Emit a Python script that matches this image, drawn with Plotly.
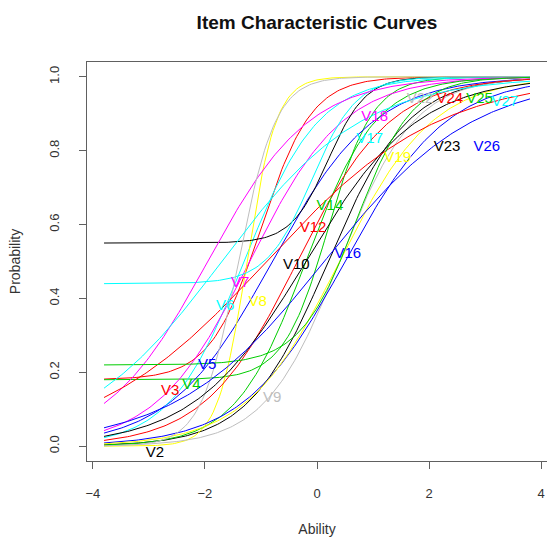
import numpy as np
import plotly.graph_objects as go

# Items (3PL parameters) ----------------------------------------------------
items = ["V2", "V3", "V4", "V5", "V6", "V7", "V8", "V9", "V10", "V12", "V14",
         "V16", "V17", "V18", "V19", "V22", "V23", "V24", "V25", "V26", "V27"]
discrimination = [1.4, 2.2, 2.5, 1.1, 1.5, 1.2, 3.8, 1.5, 3.0, 1.2, 1.6,
                  1.1, 2.5, 1.1, 1.2, 3.0, 1.0, 0.65, 2.0, 0.75, 0.8]
difficulty = [0.2, -1.0, 0.2, -0.8, -1.3, -1.2, -1.25, 0.4, 0.2, -0.35, -0.2,
              0.5, -0.1, -1.95, 0.4, -1.4, -0.2, -0.9, 0.7, 0.13, -1.7]
guessing = [0.0, 0.18, 0.18, 0.0, 0.0, 0.0, 0.0, 0.0, 0.55, 0.0, 0.0,
            0.0, 0.44, 0.0, 0.0, 0.0, 0.0, 0.0, 0.22, 0.0, 0.0]

# Label positions (ability, probability)
label_x = [-2.89, -2.62, -2.24, -1.96, -1.64, -1.37, -1.06, -0.80, -0.37, -0.07, 0.23,
           0.55, 0.94, 1.03, 1.44, 1.84, 2.32, 2.37, 2.90, 3.03, 3.35]
label_y = [-0.02, 0.15, 0.165, 0.22, 0.38, 0.44, 0.39, 0.13, 0.49, 0.59, 0.65,
           0.52, 0.83, 0.89, 0.78, 0.94, 0.81, 0.94, 0.94, 0.81, 0.93]

palette = ["#000000", "#FF0000", "#00CD00", "#0000FF",
           "#00FFFF", "#FF00FF", "#FFFF00", "#BEBEBE"]

ability = np.linspace(-3.8, 3.8, 200)
FONT = "Liberation Sans, Arial, sans-serif"

fig = go.Figure()
for i, name in enumerate(items):
    a, b, c = discrimination[i], difficulty[i], guessing[i]
    p = c + (1 - c) / (1 + np.exp(-a * (ability - b)))
    col = palette[i % len(palette)]
    fig.add_trace(go.Scatter(x=ability, y=p, mode="lines",
                             line=dict(color=col, width=1), name=name,
                             showlegend=False, hoverinfo="skip"))
for i, name in enumerate(items):
    col = palette[i % len(palette)]
    fig.add_trace(go.Scatter(x=[label_x[i]], y=[label_y[i]], mode="text",
                             text=[name], textposition="middle center",
                             textfont=dict(color=col, size=15, family=FONT),
                             showlegend=False, hoverinfo="skip"))

axis_common = dict(showline=True, mirror=True, linecolor="#606060", linewidth=1,
                   ticks="outside", ticklen=7, tickcolor="#606060", tickwidth=1,
                   showgrid=False, zeroline=False,
                   tickfont=dict(size=13, color="#333333", family=FONT))

fig.update_layout(
    width=547, height=544,
    margin=dict(l=87, r=0, t=62, b=83),
    paper_bgcolor="white", plot_bgcolor="white",
    title=dict(text="<b>Item Characteristic Curves</b>", x=0.5, xref="paper",
               y=1 - 22 / 544, yanchor="middle",
               font=dict(size=19, color="#111111", family=FONT)),
    xaxis=dict(range=[-4.104, 4.104], tickvals=[-4, -2, 0, 2, 4],
               ticklabelstandoff=13,
               title=dict(text="Ability", standoff=24,
                          font=dict(size=14, color="#333333", family=FONT)),
               **axis_common),
    yaxis=dict(range=[-0.04, 1.04], tickvals=[0, 0.2, 0.4, 0.6, 0.8, 1.0],
               ticktext=["0.0", "0.2", "0.4", "0.6", "0.8", "1.0"],
               tickangle=-90, ticklabelstandoff=15,
               title=dict(text="Probability", standoff=22,
                          font=dict(size=14, color="#333333", family=FONT)),
               **axis_common),
)

fig.write_html("out.html",
               config={"displayModeBar": False},
               post_script="document.body.style.margin='0';"
                           "document.body.style.overflow='hidden';")
